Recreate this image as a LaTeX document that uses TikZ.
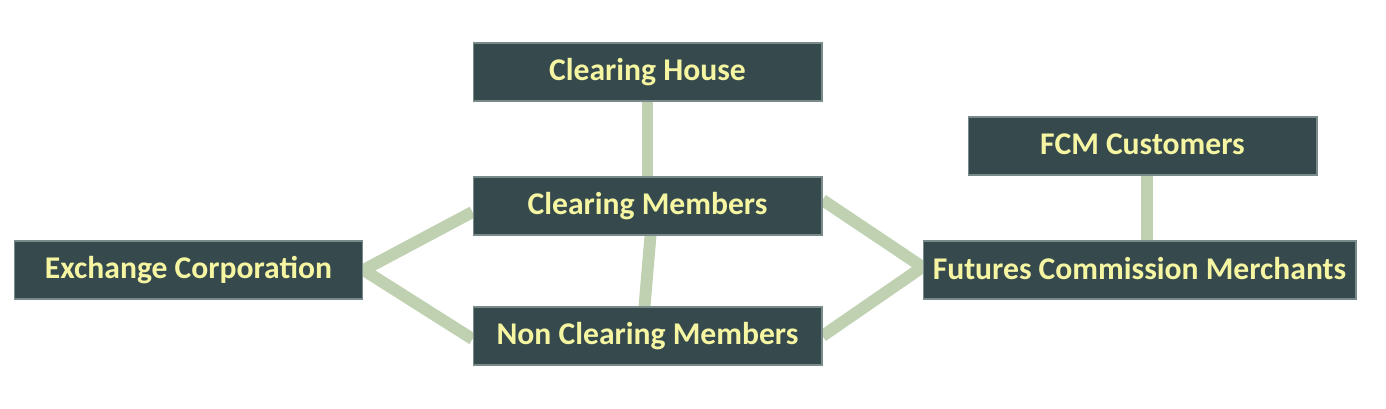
\documentclass[tikz,border=0pt]{standalone}
\usepackage{fontspec}
\setmainfont{Carlito}
\usetikzlibrary{positioning, calc, backgrounds}
\definecolor{boxfill}{HTML}{364A4D}
\definecolor{boxline}{HTML}{788A8A}
\definecolor{boxtext}{HTML}{F6F5A2}
\definecolor{linkgreen}{HTML}{C0D1B1}

\tikzset{
    party/.style={draw=boxline, line width=0.6pt, fill=boxfill, text=boxtext,
        font=\fontsize{18}{20}\selectfont\bfseries, inner sep=0pt,
        minimum width=6.98cm, minimum height=1.16cm},
    link/.style={draw=linkgreen, line width=6.8pt}
}

\begin{document}
\begin{tikzpicture}[x=0.02cm, y=-0.02cm]
        \useasboundingbox (0,0) rectangle (1386,409);

        % Middle column
        \node[party] (house) at (647.5, 72) {\raisebox{2.2pt}{Clearing House}};
        \node[party] (members) at (647.5, 206) {\raisebox{2.2pt}{Clearing Members}};
        \node[party] (nonmembers) at (647.5, 336) {\raisebox{2.2pt}{Non Clearing Members}};

        % Left and right
        \node[party] (exchange) at (188.5, 270) {\raisebox{2.2pt}{Exchange Corporation}};
        \node[party] (customers) at (1142.5, 146) {\raisebox{2.2pt}{FCM Customers}};
        \node[party, minimum width=8.66cm] (fcm) at (1139.5, 270) {\raisebox{2.2pt}{Futures Commission Merchants}};

        % Links
        \begin{scope}[on background layer]
            \draw[link] (house.south) -- (members.north);
            \draw[link] ($(members.south)+(3,0)$) -- ($(nonmembers.north)+(-3,0)$);
            \draw[link] (exchange.east) -- ($(members.west)+(0,6)$);
            \draw[link] (exchange.east) -- ($(nonmembers.west)+(0,3)$);
            \draw[link] ($(members.east)+(0,-6)$) -- ($(fcm.west)+(0,-3)$);
            \draw[link] (nonmembers.east) -- ($(fcm.west)+(0,-3)$);
            \draw[link] ($(customers.south)+(4.5,0)$) -- ($(fcm.north)+(7.5,0)$);
        \end{scope}
    \end{tikzpicture}
\end{document}
